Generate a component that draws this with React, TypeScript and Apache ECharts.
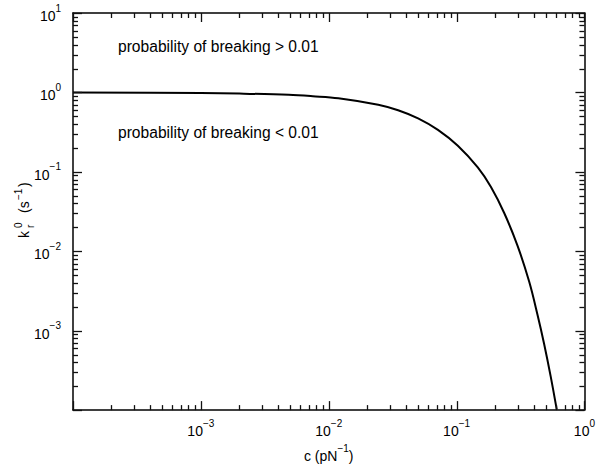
import React, { useEffect, useRef } from "react";
import * as echarts from "echarts";

const cValues = [1e-4, 1e-3, 0.002, 0.00487, 0.0075, 0.0119, 0.0244, 0.0349, 0.05, 0.0715, 0.1023, 0.1465, 0.1858, 0.2363, 0.3, 0.37, 0.429, 0.484, 0.545, 0.607];
const kValues = [1.0, 0.985, 0.968, 0.932, 0.895, 0.845, 0.7, 0.596, 0.471, 0.3375, 0.213, 0.1137, 0.0644, 0.0301, 0.0117, 0.00412, 0.0016, 0.00068, 0.000264, 0.000102];
const xRange = [1e-4, 1];
const yRange = [1e-4, 10];
const xMajorTicks = [1e-4, 1e-3, 1e-2, 1e-1, 1];
const yMajorTicks = [1e-4, 1e-3, 1e-2, 1e-1, 1, 10];
const annotations = ["probability of breaking > 0.01", "probability of breaking < 0.01"];
const FONT = "'Liberation Sans', Arial, Helvetica, sans-serif";
const TICK_COLOR = "#111111";

function minorTicks(lo: number, hi: number): number[] {
  const out: number[] = [];
  for (let e = Math.round(Math.log10(lo)); e < Math.round(Math.log10(hi)); e++) {
    for (let m = 2; m <= 9; m++) out.push(m * Math.pow(10, e));
  }
  return out;
}

const expFmt = (v: number) => {
  const e = Math.round(Math.log10(v));
  if (e === -4) return "";
  const s = e < 0 ? "\u2212" + Math.abs(e) : String(e);
  return `{b|10}{s|${s}}`;
};

const richLab = {
  b: { fontSize: 14, lineHeight: 20, verticalAlign: "bottom", fontFamily: FONT, color: "#000" },
  s: { fontSize: 10, lineHeight: 11, verticalAlign: "top", fontFamily: FONT, color: "#000" },
};

const px = (v: number) => Math.round(v) + 0.5;
const tickLine = (x1: number, y1: number, x2: number, y2: number) => ({
  type: "line",
  shape: { x1, y1, x2, y2 },
  style: { stroke: TICK_COLOR, lineWidth: 1.3 },
});

function xTickSeries(values: number[], len: number) {
  return {
    type: "custom",
    xAxisIndex: 0,
    yAxisIndex: 0,
    clip: false,
    z: 10,
    data: values.map((v) => [v, yRange[0]]),
    renderItem: (params: any, api: any) => {
      const v = api.value(0);
      const b = api.coord([v, yRange[0]]);
      const t = api.coord([v, yRange[1]]);
      const x = px(b[0]);
      return {
        type: "group",
        children: [tickLine(x, b[1], x, b[1] - len), tickLine(x, t[1], x, t[1] + len)],
      };
    },
  };
}

function yTickSeries(values: number[], len: number) {
  return {
    type: "custom",
    xAxisIndex: 0,
    yAxisIndex: 0,
    clip: false,
    z: 10,
    data: values.map((v) => [xRange[0], v]),
    renderItem: (params: any, api: any) => {
      const v = api.value(1);
      const l = api.coord([xRange[0], v]);
      const r = api.coord([xRange[1], v]);
      const y = px(l[1]);
      return {
        type: "group",
        children: [tickLine(l[0], y, l[0] + len, y), tickLine(r[0], y, r[0] - len, y)],
      };
    },
  };
}

export default function App() {
  const ref = useRef<HTMLDivElement>(null);
  useEffect(() => {
    if (!ref.current) return;
    const chart = echarts.init(ref.current, null, { renderer: "svg" });
    const axisCommon = (show: boolean, margin: number) => ({
      type: "log" as const,
      logBase: 10,
      axisLine: { show: true, onZero: false, lineStyle: { color: "#000", width: 1.5 } },
      axisTick: { show: false },
      minorTick: { show: false },
      splitLine: { show: false },
      axisLabel: show
        ? { show: true, margin, formatter: expFmt, rich: richLab, fontFamily: FONT, color: "#000" }
        : { show: false },
    });
    const option: any = {
      animation: false,
      backgroundColor: "#fff",
      grid: { left: 73, right: 11, top: 13, bottom: 51, containLabel: false },
      xAxis: [
        {
          ...axisCommon(true, 8),
          min: xRange[0],
          max: xRange[1],
          position: "bottom",
          name: "{a|c (pN}{s|\u22121}{a|)}",
          nameLocation: "middle",
          nameGap: 26,
          nameTextStyle: {
            rich: {
              a: { fontSize: 14, lineHeight: 20, verticalAlign: "bottom", fontFamily: FONT, color: "#000" },
              s: { fontSize: 10, lineHeight: 11, verticalAlign: "top", fontFamily: FONT, color: "#000" },
            },
          },
        },
        { ...axisCommon(false, 8), min: xRange[0], max: xRange[1], position: "top" },
      ],
      yAxis: [
        { ...axisCommon(true, 12), min: yRange[0], max: yRange[1], position: "left" },
        { ...axisCommon(false, 12), min: yRange[0], max: yRange[1], position: "right" },
      ],
      graphic: [
        {
          type: "group",
          x: 24,
          y: 238,
          rotation: Math.PI / 2,
          children: [
            { type: "text", x: 0, y: 0, style: { text: "k", font: `14px ${FONT}`, fill: "#000", verticalAlign: "middle", align: "left" } },
            { type: "text", x: 10, y: -6, style: { text: "0", font: `10px ${FONT}`, fill: "#000", verticalAlign: "middle", align: "left" } },
            { type: "text", x: 10, y: 6, style: { text: "r", font: `10px ${FONT}`, fill: "#000", verticalAlign: "middle", align: "left" } },
            { type: "text", x: 25, y: 0, style: { text: "(s", font: `14px ${FONT}`, fill: "#000", verticalAlign: "middle", align: "left" } },
            { type: "text", x: 38, y: -6, style: { text: "\u22121", font: `10px ${FONT}`, fill: "#000", verticalAlign: "middle", align: "left" } },
            { type: "text", x: 51, y: 0, style: { text: ")", font: `14px ${FONT}`, fill: "#000", verticalAlign: "middle", align: "left" } },
          ],
        },
        { type: "text", x: 118, y: 46, style: { text: annotations[0], font: `15.6px ${FONT}`, fill: "#000", verticalAlign: "middle" } },
        { type: "text", x: 118, y: 132, style: { text: annotations[1], font: `15.6px ${FONT}`, fill: "#000", verticalAlign: "middle" } },
      ],
      series: [
        {
          type: "line",
          xAxisIndex: 0,
          yAxisIndex: 0,
          data: cValues.map((c, i) => [c, kValues[i]]),
          showSymbol: false,
          smooth: 0.35,
          lineStyle: { color: "#000", width: 2 },
          clip: true,
        },
        xTickSeries(xMajorTicks, 9),
        xTickSeries(minorTicks(xRange[0], xRange[1]), 5),
        yTickSeries(yMajorTicks, 9),
        yTickSeries(minorTicks(yRange[0], yRange[1]), 5),
      ],
    };
    chart.setOption(option);
    return () => chart.dispose();
  }, []);
  return <div ref={ref} style={{ position: "fixed", left: 0, top: 0, width: 598, height: 468, background: "#fff" }} />;
}
